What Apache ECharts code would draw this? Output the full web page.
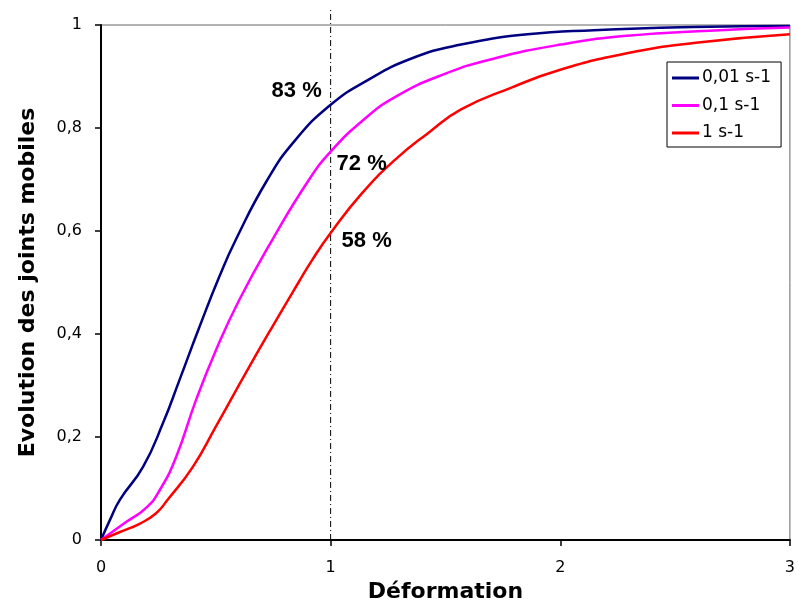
<!DOCTYPE html>
<html>
<head>
<meta charset="utf-8">
<script src="https://cdn.jsdelivr.net/npm/echarts@6/dist/echarts.min.js"></script>
<style>
  html, body { margin: 0; padding: 0; background: #ffffff; }
  #chart { width: 798px; height: 610px; }
</style>
</head>
<body>
<div id="chart"></div>
<script>
// ---- Data ----
const seriesNames = ['0,01 s-1', '0,1 s-1', '1 s-1'];

const strain001 = [
  [0,0],[0.04,0.04],[0.082,0.078],[0.183,0.142],[0.27,0.227],[0.342,0.311],[0.429,0.414],
  [0.515,0.511],[0.587,0.583],[0.724,0.699],[0.847,0.777],[1.0,0.845],[1.15,0.89],
  [1.352,0.935],[1.568,0.962],[1.857,0.982],[2.146,0.99],[2.578,0.996],[3.0,0.998]
];
const strain01 = [
  [0,0],[0.1,0.032],[0.2,0.064],[0.26,0.1],[0.328,0.162],[0.414,0.272],[0.501,0.369],
  [0.602,0.466],[0.746,0.583],[0.905,0.699],[1.0,0.754],[1.136,0.813],[1.28,0.86],
  [1.497,0.905],[1.713,0.935],[2.002,0.962],[2.29,0.979],[2.651,0.989],[3.0,0.995]
];
const strain1 = [
  [0,0],[0.08,0.015],[0.17,0.032],[0.24,0.052],[0.29,0.078],[0.4,0.142],[0.5,0.22],
  [0.63,0.324],[0.746,0.414],[0.86,0.5],[0.92,0.544],[1.0,0.596],[1.136,0.673],
  [1.28,0.738],[1.424,0.79],[1.568,0.836],[1.785,0.878],[2.0,0.913],[2.29,0.945],
  [2.58,0.965],[3.0,0.982]
];
const percentLabels = ['83 %', '72 %', '58 %'];
const refStrain = 1;
const xTicks = [0, 1, 2, 3];
const yTicks = [0, 0.2, 0.4, 0.6, 0.8, 1];

// ---- Styling ----
const colors = ['#000080', '#FF00FF', '#FF0000'];
const labelOffsets = [[-34, -14], [31, 12], [36, 8]];
const dataSets = [strain001, strain01, strain1];

function valueAt(arr, x) {
  for (const p of arr) if (p[0] === x) return p[1];
  return null;
}

const chart = echarts.init(document.getElementById('chart'), null, { renderer: 'canvas' });

const lineSeries = dataSets.map((d, i) => ({
  name: seriesNames[i],
  type: 'line',
  data: d,
  smooth: 0.5,
  symbol: 'none',
  lineStyle: { color: colors[i], width: 2.5 },
  itemStyle: { color: colors[i] },
  z: 3,
  markPoint: {
    symbol: 'circle',
    symbolSize: 1,
    itemStyle: { color: 'rgba(0,0,0,0)' },
    silent: true,
    data: [{
      coord: [refStrain, valueAt(d, refStrain)],
      label: {
        show: true,
        formatter: percentLabels[i],
        position: 'inside',
        offset: labelOffsets[i],
        color: '#000',
        fontFamily: 'Liberation Sans, Arial, sans-serif',
        fontWeight: 'bold',
        fontSize: 22
      }
    }]
  }
}));

const refLine = {
  name: 'ref',
  type: 'line',
  data: [[refStrain, 0], [refStrain, 1.03]],
  clip: false,
  symbol: 'none',
  silent: true,
  lineStyle: { color: '#000', width: 1, type: [6, 3, 1, 3] },
  z: 2
};

const option = {
  backgroundColor: '#ffffff',
  animation: false,
  grid: {
    left: 101, right: 4, top: 25, bottom: 70,
    show: true, borderColor: '#666', borderWidth: 1
  },
  legend: {
    data: seriesNames,
    orient: 'vertical',
    left: 667, top: 62,
    icon: 'rect',
    itemWidth: 27, itemHeight: 3,
    itemGap: 7.5,
    padding: [6, 10, 4, 5],
    borderColor: '#000', borderWidth: 1,
    backgroundColor: '#fff',
    textStyle: { fontFamily: 'DejaVu Sans', fontSize: 17, color: '#000', lineHeight: 20, padding: [0,0,0,-2] }
  },
  xAxis: {
    type: 'value', min: 0, max: 3, interval: 1,
    name: 'Déformation', nameLocation: 'middle', nameGap: 35,
    nameTextStyle: { fontFamily: 'DejaVu Sans', fontWeight: 'bold', fontSize: 22, color: '#000' },
    axisLine: { show: true, onZero: false, lineStyle: { color: '#000', width: 2 } },
    axisTick: { show: true, length: 6, lineStyle: { color: '#000', width: 1.5 } },
    axisLabel: {
      margin: 20, fontFamily: 'DejaVu Sans', fontSize: 16, color: '#000',
      formatter: v => xTicks.includes(v) ? String(v) : ''
    },
    splitLine: { show: false }
  },
  yAxis: {
    type: 'value', min: 0, max: 1, interval: 0.2,
    name: 'Evolution des joints mobiles', nameLocation: 'middle', nameGap: 62,
    nameTextStyle: { fontFamily: 'DejaVu Sans', fontWeight: 'bold', fontSize: 22, color: '#000' },
    axisLine: { show: true, onZero: false, lineStyle: { color: '#000', width: 2 } },
    axisTick: { show: true, length: 6, lineStyle: { color: '#000', width: 1.5 } },
    axisLabel: {
      margin: 19, fontFamily: 'DejaVu Sans', fontSize: 16, color: '#000',
      formatter: v => {
        const t = yTicks.find(k => Math.abs(k - v) < 1e-9);
        return t === undefined ? '' : String(+t.toFixed(1)).replace('.', ',');
      }
    },
    splitLine: { show: false }
  },
  series: [refLine].concat(lineSeries)
};

chart.setOption(option);
</script>
</body>
</html>
